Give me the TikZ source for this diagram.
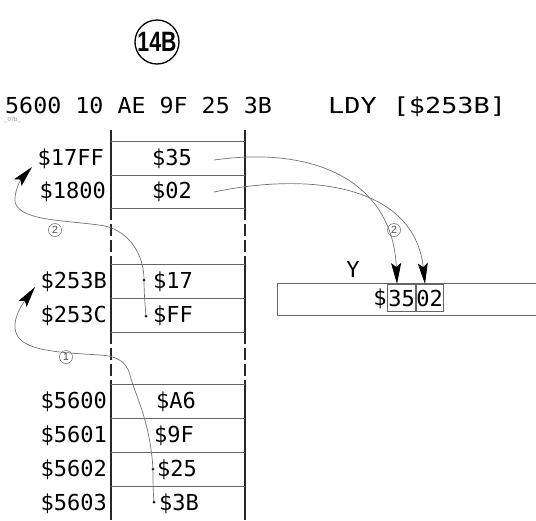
\documentclass[tikz,border=0pt]{standalone}
\usepackage{fontspec}
\newfontfamily\memfont{DejaVu Sans Mono}
\newfontfamily\lblfont{Liberation Sans}
\usetikzlibrary{arrows.meta}
\begin{document}
\begin{tikzpicture}[x=1pt,y=-1pt,
  mem/.style={font=\memfont\fontsize{22}{26}\selectfont, inner sep=0pt},
  addr/.style={mem, anchor=base east},
  val/.style={mem, anchor=base},
  vline/.style={line width=1.4pt, black!85},
  dline/.style={vline, dash pattern=on 12pt off 4pt},
  hline/.style={line width=0.8pt, black!60},
  conn/.style={line width=0.7pt, black!55},
  tip/.style={-{Stealth[length=21pt,width=10pt,inset=4pt,color=black]}},
  dot/.style={circle, fill=black, inner sep=0pt, minimum size=3pt},
  num/.style={circle, draw=black!60, line width=0.5pt, inner sep=0pt, minimum size=13pt, font=\lblfont\fontsize{10.5}{10.5}\selectfont, text=black!70},
  digbox/.style={mem, draw=black!60, line width=0.6pt, minimum height=27pt, text height=16pt, text depth=0pt},
]
\useasboundingbox (0,0) rectangle (536,520);

% title
\node[circle, draw, line width=1.3pt, minimum size=44pt, inner sep=0pt,
      font=\lblfont\bfseries\fontsize{28}{28}\selectfont] (title) at (157,42) {\scalebox{0.76}[1]{14B}};

% header
\node[mem, anchor=base west] (hex) at (5,113) {\scalebox{1.06}[1]{5600 10 AE 9F 25 3B}};
\node[mem, anchor=base west] (instr) at (328,113) {\scalebox{1.22}[1]{LDY [\$253B]}};
\node[font=\lblfont\fontsize{6}{6}\selectfont, text=black!45, anchor=west, inner sep=0pt] (ref) at (4,120) {\_07b\_};

% memory column
\foreach \x in {111,245}{
  \draw[vline] (\x,130) -- (\x,208);
  \draw[dline] (\x,208) -- (\x,264);
  \draw[vline] (\x,264) -- (\x,332);
  \draw[dline] (\x,332) -- (\x,384);
  \draw[vline] (\x,384) -- (\x,520);
}
\foreach \y in {141,175,208,264,298,332,384,418,452,486}{
  \draw[hline] (111,\y) -- (245,\y);
}

% addresses
\node[addr] (a17FF) at (104,165) {\$17FF};
\node[addr] (a1800) at (106,198) {\$1800};
\node[addr] (a253B) at (107,288) {\$253B};
\node[addr] (a253C) at (107,322) {\$253C};
\node[addr] (a5600) at (107,408) {\$5600};
\node[addr] (a5601) at (107,442) {\$5601};
\node[addr] (a5602) at (107,476) {\$5602};
\node[addr] (a5603) at (107,510) {\$5603};

% values
\node[val] (v35) at (172,165) {\$35};
\node[val] (v02) at (172,198) {\$02};
\node[val] (v17) at (173,288) {\$17};
\node[val] (vFF) at (173,322) {\$FF};
\node[val] (vA6) at (176,408) {\$A6};
\node[val] (v9F) at (174,442) {\$9F};
\node[val] (v25) at (177,476) {\$25};
\node[val] (v3B) at (179,510) {\$3B};

% dots
\node[dot] (d3B) at (154,502) {};
\node[dot] (d25) at (153,469) {};
\node[dot] (dFF) at (146,316) {};
\node[dot] (d17) at (144,280) {};

% Y register
\draw[hline] (540,283) -- (277,283) -- (277,315) -- (540,315);
\node[mem, anchor=base] (ylbl) at (353,277) {Y};
\node[mem, anchor=base] (ydol) at (380,305) {\$};
\node[digbox, minimum width=28pt] (b35) at (401.5,298) {35};
\node[digbox, minimum width=27pt] (b02) at (429.5,298) {02};

% connector ends
\coordinate (t1) at (35,287);
\coordinate (t2) at (32,167);
\coordinate (s35) at (214,160);
\coordinate (s02) at (214,192);
\coordinate (t35) at (397,284);
\coordinate (t02) at (425,284);

% arrow 1
\draw[conn,tip] (d3B.center) .. controls (153,490) and (153,480) .. (d25.center)
  .. controls (150,420) and (135,395) .. (130,375)
  .. controls (126,360) and (115,356) .. (100,355)
  .. controls (50,352) and (17,350) .. (15,328)
  .. controls (14,315) and (24,302) .. (t1);
% arrow 2
\draw[conn,tip] (dFF.center) .. controls (145,304) and (144,292) .. (d17.center)
  .. controls (144,255) and (130,232) .. (105,226)
  .. controls (70,220) and (20,222) .. (15,202)
  .. controls (14,190) and (22,178) .. (t2);
% arrows to Y
\draw[conn,tip] (s35) .. controls (320,145) and (393,185) .. (t35);
\draw[conn,tip] (s02) .. controls (320,170) and (415,190) .. (t02);

% step numbers
\node[num] (n1) at (66,357) {1};
\node[num] (n2a) at (55,230) {2};
\node[num] (n2b) at (394,230) {2};
\end{tikzpicture}
\end{document}
